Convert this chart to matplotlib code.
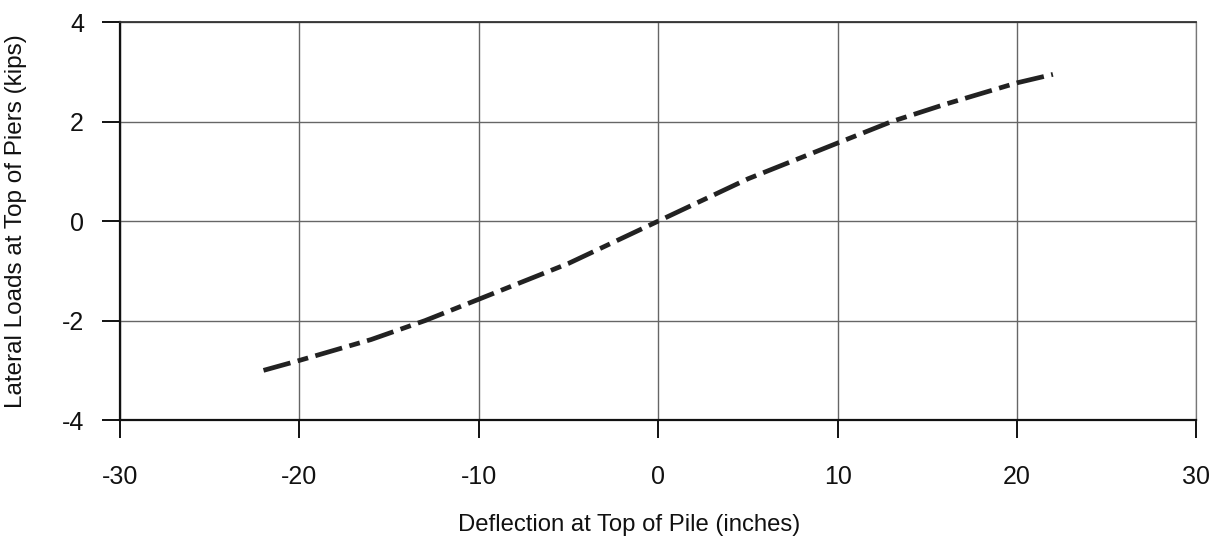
import matplotlib.pyplot as plt

# pile head load-deflection curve
deflection = [-22, -20, -16, -13, -10, -5, 0, 5, 10, 13, 16, 20, 22]
lateral_load = [-3.0, -2.8, -2.38, -2.0, -1.57, -0.85, 0.0, 0.85, 1.57, 2.0, 2.35, 2.78, 2.95]

x_ticks = [-30, -20, -10, 0, 10, 20, 30]
y_ticks = [-4, -2, 0, 2, 4]

plt.rcParams['font.family'] = ['Liberation Sans', 'DejaVu Sans']
plt.rcParams['axes.unicode_minus'] = False

fig = plt.figure(figsize=(12.17, 5.4), dpi=100)
ax = fig.add_axes([0.0986, 0.222, 0.8845, 0.737])

ax.plot(deflection, lateral_load, color='#222222', linewidth=3.4,
        linestyle=(0, (5.9, 1.6, 2.3, 1.6)), solid_capstyle='butt',
        dash_capstyle='butt', zorder=3)

ax.set_xlim(-30, 30)
ax.set_ylim(-4, 4)
ax.set_xticks(x_ticks)
ax.set_yticks(y_ticks)
ax.grid(True, color='#666666', linewidth=1.0)

for side in ['left', 'bottom']:
    ax.spines[side].set_color('#111111')
    ax.spines[side].set_linewidth(1.6)
ax.spines['top'].set_color('#333333')
ax.spines['top'].set_linewidth(1.3)
ax.spines['right'].set_color('#777777')
ax.spines['right'].set_linewidth(0.9)

ax.tick_params(axis='both', direction='out', length=13, width=1.4,
               color='#111111', labelsize=18, labelcolor='#111111')
ax.tick_params(axis='y', pad=13)
ax.tick_params(axis='x', pad=19)

ax.set_xlabel('Deflection at Top of Pile (inches)', fontsize=17.2,
              color='#111111')
ax.set_ylabel('Lateral Loads at Top of Piers (kips)', fontsize=17.5,
              color='#111111')
ax.xaxis.set_label_coords(0.473, -0.235)
ax.yaxis.set_label_coords(-0.086, 0.5)

fig.savefig('out.png', dpi=100)
